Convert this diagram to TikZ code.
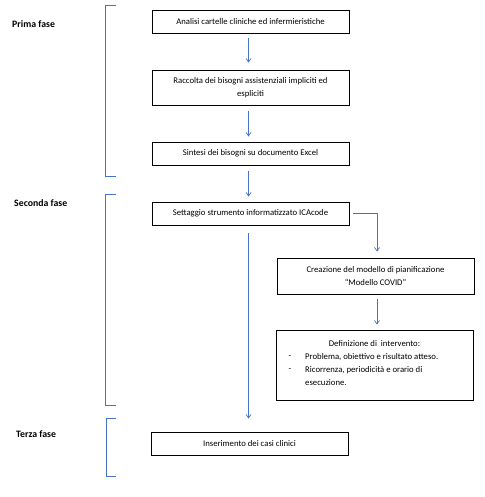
\documentclass[tikz,border=0pt]{standalone}
\usepackage{fontspec}
\setmainfont{Carlito}
\usetikzlibrary{arrows.meta}
\definecolor{obl}{HTML}{4472C4}
\begin{document}
\begin{tikzpicture}[x=1pt,y=-1pt,
  box/.style={draw=black, line width=0.9pt, inner sep=0pt, align=center, font=\fontsize{8.7}{13}\selectfont},
  txt/.style={font=\fontsize{8.7}{13}\selectfont, inner sep=0pt},
  arr/.style={draw=obl, line width=0.7pt, -{Straight Barb[length=3.5pt,width=5pt]}},
  brk/.style={draw=obl, line width=0.8pt},
  lab/.style={anchor=west, font=\fontsize{9.8}{11}\selectfont\bfseries, inner sep=0pt}]
\useasboundingbox[fill=white] (0,0) rectangle (484,497);
% brackets
\draw[brk] (116,5) -- (105,5) -- (105,176) -- (116,176);
\draw[brk] (116,194) -- (105,194) -- (105,405) -- (116,405);
\draw[brk] (116,418) -- (106,418) -- (106,476) -- (116,476);
% labels
\node[lab] (l1) at (12,24) {Prima fase};
\node[lab] (l2) at (14,203) {Seconda fase};
\node[lab] (l3) at (16,434) {Terza fase};
% boxes
\node[box, minimum width=197, minimum height=23] (b1) at (250.5,21.5) {Analisi cartelle cliniche ed infermieristiche};
\node[box, minimum width=197, minimum height=35] (b2) at (250.5,87.5) {Raccolta dei bisogni assistenziali impliciti ed\\espliciti};
\node[box, minimum width=197, minimum height=23] (b3) at (250.5,153.5) {Sintesi dei bisogni su documento Excel};
\node[box, minimum width=197, minimum height=23] (b4) at (250.5,213.5) {Settaggio strumento informatizzato ICAcode};
\node[box, minimum width=197, minimum height=36] (b5) at (375.5,276) {Creazione del modello di pianificazione\\“Modello COVID”};
\node[box, minimum width=197, minimum height=70] (b6) at (374.5,365) {};
\node[box, minimum width=197, minimum height=23] (b7) at (249.5,443.5) {Inserimento dei casi clinici};
% text of box 6
\node[txt] (t0) at (374.5,344) {Definizione di\ \ intervento:};
\node[txt] (d1) at (290,357) {-};
\node[txt, anchor=west] (t1) at (305,357) {Problema, obiettivo e risultato atteso.};
\node[txt] (d2) at (290,370) {-};
\node[txt, anchor=west] (t2) at (305,370) {Ricorrenza, periodicità e orario di};
\node[txt, anchor=west] (t3) at (305,383) {esecuzione.};
% arrows
\draw[arr, shorten <=5pt, shorten >=7pt] ([xshift=-2pt]b1.south) -- ([xshift=-2pt]b2.north);
\draw[arr, shorten <=6pt, shorten >=5pt] ([xshift=-2pt]b2.south) -- ([xshift=-2pt]b3.north);
\draw[arr, shorten <=6pt, shorten >=5pt] ([xshift=-2pt]b3.south) -- ([xshift=-2pt]b4.north);
\draw[arr, shorten <=4pt, shorten >=6pt] (b4.east) -| ([xshift=1.5pt]b5.north);
\draw[arr, shorten <=5pt, shorten >=5pt] ([xshift=1.5pt]b5.south) -- ([xshift=2.5pt]b6.north);
\draw[arr, shorten <=8pt, shorten >=13pt] ([xshift=-2pt]b4.south) -- ([xshift=-1pt]b7.north);
\end{tikzpicture}
\end{document}
